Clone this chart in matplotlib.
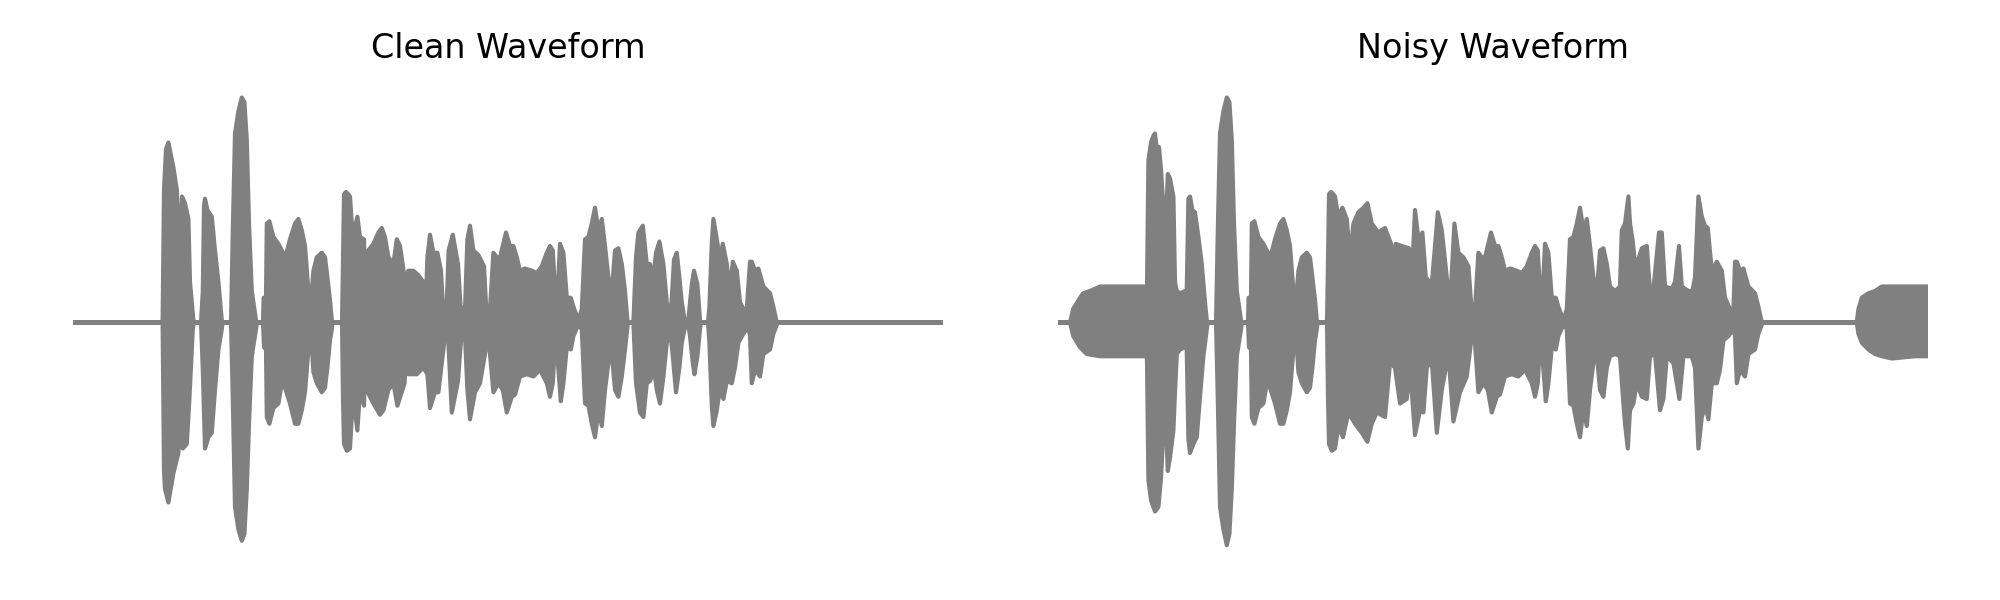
import matplotlib.pyplot as plt
import numpy as np

# Envelopes of the two waveforms.
# time in ms, amplitude normalised to the loudest peak (=1)
clean_top_t = [0, 440, 448, 455, 465, 477, 502, 519, 528, 532, 538, 545, 560, 577, 585, 602, 605,
               640, 649, 655, 660, 672, 694, 710, 727, 744, 748,
               790, 799, 810, 827, 844, 857, 869, 880, 894, 915, 920,
               950, 953, 965, 969, 982, 1002, 1027, 1050, 1057, 1062, 1085, 1110, 1127, 1144, 1160, 1177,
               1190, 1202, 1219, 1244, 1260, 1272, 1285, 1294, 1298,
               1345, 1350, 1355, 1365, 1377, 1385, 1394, 1405, 1422, 1435, 1455, 1460, 1468, 1502, 1527,
               1544, 1560, 1577, 1602, 1619, 1635, 1658, 1669, 1676, 1702, 1727, 1752, 1765, 1772, 1785,
               1802, 1822, 1840, 1850, 1868, 1878, 1899, 1925, 1938, 1960, 1972, 1985, 2002, 2027, 2055,
               2068, 2085,
               2102, 2119, 2135, 2165, 2185, 2202, 2219, 2235, 2260, 2294, 2319, 2344, 2369, 2385, 2399,
               2410, 2422, 2435, 2452, 2469, 2489, 2502, 2527, 2544, 2560, 2577, 2594, 2610, 2627, 2644,
               2660, 2677, 2694, 2710, 2727, 2744, 2760, 2772, 2775,
               2802, 2815, 2827, 2849, 2869, 2885, 2902, 2915, 2932, 2952, 2969, 2985, 2994, 3005, 3019,
               3032, 3044, 3060, 3075, 3082, 3094, 3105, 3122, 3135, 3140, 3175, 3182, 3194, 3202, 3219,
               3235, 3249, 3269, 3285, 3299, 3319, 3335, 3352, 3369, 3385, 3394, 3410, 3427, 3452, 3485,
               3502, 3519, 4350]
clean_top = [0, 0, 0, 0.59, 0.77, 0.80, 0.69, 0.59, 0.41, 0.20, 0.37, 0.56, 0.53, 0.46, 0.18, 0.01, 0,
             0, 0.14, 0.52, 0.55, 0.50, 0.47, 0.32, 0.18, 0.01, 0,
             0, 0.41, 0.84, 0.94, 1.00, 0.98, 0.81, 0.44, 0.14, 0.01, 0,
             0, 0.11, 0.11, 0.44, 0.45, 0.38, 0.35, 0.31, 0.14, 0.29, 0.37, 0.44, 0.46, 0.41, 0.34, 0.14,
             0.10, 0.23, 0.29, 0.31, 0.29, 0.20, 0.10, 0.01, 0,
             0, 0.28, 0.57, 0.58, 0.57, 0.56, 0.44, 0.41, 0.47, 0.38, 0.37, 0.19, 0.31, 0.35, 0.40,
             0.42, 0.38, 0.29, 0.26, 0.37, 0.34, 0.20, 0.06, 0.23, 0.23, 0.21, 0.18, 0.11, 0.29, 0.39,
             0.31, 0.31, 0.23, 0.07, 0.06, 0.32, 0.39, 0.26, 0.07, 0.06, 0.37, 0.43, 0.32, 0.30, 0.25,
             0.03, 0.06,
             0.31, 0.29, 0.29, 0.40, 0.34, 0.34, 0.29, 0.23, 0.24, 0.23, 0.22, 0.25, 0.31, 0.34, 0.32,
             0.14, 0.11, 0.35, 0.31, 0.11, 0.11, 0.07, 0.01, 0.06, 0.37, 0.38, 0.44, 0.51, 0.41, 0.46,
             0.34, 0.20, 0.14, 0.32, 0.33, 0.26, 0.14, 0.01, 0,
             0, 0.29, 0.40, 0.43, 0.26, 0.26, 0.20, 0.31, 0.36, 0.26, 0.09, 0, 0.11, 0.28, 0.31,
             0.20, 0.09, 0, 0, 0.06, 0.17, 0.23, 0.17, 0.01, 0, 0, 0.07, 0.35, 0.46, 0.37,
             0.28, 0.35, 0.26, 0.14, 0.27, 0.23, 0.09, 0.06, 0.06, 0.27, 0.27, 0.23, 0.24, 0.16, 0.13,
             0.07, 0, 0]

clean_bot_t = [0, 440, 448, 455, 460, 477, 502, 527, 532, 535, 549, 569, 582, 599, 605,
               640, 649, 660, 677, 694, 710, 727, 744, 748,
               790, 799, 810, 827, 844, 857, 869, 880, 894, 915, 920,
               950, 955, 965, 969, 982, 1002, 1027, 1044, 1057, 1060, 1085, 1110, 1127, 1144, 1160, 1177,
               1190, 1202, 1219, 1244, 1260, 1272, 1285, 1294, 1298,
               1345, 1350, 1355, 1369, 1385, 1394, 1405, 1422, 1435, 1455, 1460, 1468, 1502, 1535, 1552,
               1577, 1602, 1622, 1658, 1669, 1676, 1719, 1752, 1772, 1785, 1810, 1827, 1844, 1860, 1877,
               1894, 1925, 1940, 1960, 1972, 1985, 2010, 2035, 2060, 2077,
               2102, 2127, 2149, 2169, 2194, 2210, 2235, 2269, 2302, 2335, 2369, 2385, 2399, 2410, 2422,
               2439, 2452, 2469, 2489, 2502, 2527, 2544, 2560, 2577, 2594, 2610, 2627, 2644, 2660, 2677,
               2694, 2710, 2727, 2744, 2760, 2772, 2775,
               2802, 2815, 2835, 2852, 2869, 2885, 2905, 2919, 2935, 2952, 2969, 2985, 2999, 3015, 3032,
               3044, 3060, 3075, 3085, 3099, 3107, 3122, 3135, 3140, 3175, 3182, 3194, 3202, 3219, 3235,
               3252, 3269, 3294, 3310, 3327, 3352, 3377, 3385, 3394, 3410, 3435, 3452, 3485, 3502, 3519,
               3520, 4350]
clean_bot = [0, 0, 0, -0.66, -0.74, -0.80, -0.67, -0.58, -0.48, -0.20, -0.56, -0.54, -0.34, -0.03, 0,
             0, -0.21, -0.56, -0.51, -0.49, -0.30, -0.12, -0.03, 0,
             0, -0.34, -0.82, -0.92, -0.97, -0.94, -0.74, -0.45, -0.15, -0.03, 0,
             0, -0.11, -0.12, -0.42, -0.45, -0.38, -0.36, -0.27, -0.12, -0.29, -0.36, -0.45, -0.45, -0.39,
             -0.31, -0.12, -0.05, -0.22, -0.27, -0.31, -0.29, -0.20, -0.08, -0.03, 0,
             0, -0.34, -0.54, -0.57, -0.56, -0.42, -0.36, -0.48, -0.30, -0.37, -0.18, -0.30, -0.36, -0.41,
             -0.39, -0.30, -0.27, -0.37, -0.27, -0.06, -0.23, -0.23, -0.20, -0.23, -0.38, -0.31, -0.31,
             -0.18, -0.06, -0.09, -0.40, -0.26, -0.08, -0.06, -0.30, -0.43, -0.31, -0.27, -0.14, -0.06,
             -0.31, -0.27, -0.30, -0.40, -0.33, -0.32, -0.24, -0.23, -0.24, -0.21, -0.27, -0.33, -0.27,
             -0.09, -0.15, -0.35, -0.27, -0.11, -0.12, -0.06, -0.01, -0.03, -0.36, -0.37, -0.45, -0.51,
             -0.39, -0.46, -0.30, -0.18, -0.14, -0.30, -0.33, -0.24, -0.12, -0.02, 0,
             0, -0.27, -0.40, -0.42, -0.27, -0.26, -0.21, -0.30, -0.36, -0.24, -0.09, -0.03, -0.15, -0.31,
             -0.20, -0.09, -0.02, 0, -0.06, -0.18, -0.23, -0.15, -0.03, 0, 0, -0.09, -0.37, -0.46, -0.39,
             -0.29, -0.34, -0.26, -0.27, -0.20, -0.09, -0.05, -0.02, -0.06, -0.27, -0.21, -0.24, -0.14,
             -0.12, -0.05, -0.01, 0, 0]

noisy_top_t = [0, 60, 76, 110, 126, 160, 210, 276, 360, 443,
               445, 452, 465, 477, 485, 494, 505, 515, 525, 535, 549, 560, 577, 585, 594, 610, 635, 643,
               652, 660, 672, 685, 702, 719, 735, 744, 748,
               790, 799, 810, 827, 844, 857, 869, 880, 894, 915, 920,
               950, 953, 965, 969, 982, 1002, 1027, 1050, 1057, 1062, 1085, 1110, 1127, 1144, 1160, 1177,
               1190, 1202, 1219, 1244, 1260, 1272, 1285, 1294, 1298,
               1345, 1350, 1355, 1365, 1377, 1385, 1402, 1422, 1444, 1460, 1477, 1502, 1527, 1547, 1569,
               1602, 1635, 1665, 1677, 1688, 1719, 1755, 1769, 1785, 1802, 1822, 1839, 1869, 1885, 1899,
               1919, 1944, 1960, 1982, 2002, 2027, 2052, 2072, 2085,
               2102, 2119, 2135, 2165, 2185, 2202, 2219, 2235, 2260, 2294, 2319, 2344, 2369, 2385, 2399,
               2410, 2422, 2435, 2452, 2469, 2489, 2502, 2527, 2544, 2560, 2577, 2594, 2610, 2627, 2644,
               2660, 2677, 2694, 2710, 2727, 2744,
               2760, 2785, 2810, 2819, 2835, 2852, 2860, 2874, 2885, 2905, 2919, 2944, 2960, 2977, 3005,
               3019, 3035, 3069, 3085, 3105, 3119, 3152, 3172, 3185, 3202, 3219, 3235, 3249, 3269, 3294,
               3319, 3335, 3360, 3377,
               3385, 3394, 3410, 3427, 3452, 3485, 3502, 3519,
               3994, 4002, 4019, 4052, 4085, 4119, 4169, 4285, 4350]
noisy_top = [0, 0, 0.06, 0.11, 0.13, 0.14, 0.16, 0.16, 0.16, 0.16,
             0.15, 0.72, 0.80, 0.83, 0.84, 0.77, 0.78, 0.68, 0.54, 0.32, 0.66, 0.64, 0.56, 0.18, 0.14,
             0.13, 0.14, 0.11,
             0.55, 0.56, 0.50, 0.49, 0.38, 0.26, 0.09, 0.01, 0,
             0, 0.41, 0.84, 0.94, 1.00, 0.98, 0.81, 0.44, 0.14, 0.01, 0,
             0, 0.11, 0.11, 0.44, 0.45, 0.38, 0.35, 0.31, 0.14, 0.29, 0.37, 0.44, 0.46, 0.41, 0.34, 0.14,
             0.10, 0.23, 0.29, 0.31, 0.29, 0.20, 0.10, 0.01, 0,
             0, 0.28, 0.57, 0.58, 0.57, 0.56, 0.47, 0.51, 0.46, 0.29, 0.44, 0.49, 0.51, 0.53, 0.44,
             0.40, 0.42, 0.35, 0.19, 0.35, 0.34, 0.33, 0.19, 0.50, 0.37, 0.40, 0.20, 0.17, 0.34, 0.49,
             0.41, 0.20, 0.07, 0.44, 0.31, 0.29, 0.25, 0.01, 0.06,
             0.31, 0.29, 0.29, 0.40, 0.34, 0.34, 0.29, 0.23, 0.24, 0.23, 0.22, 0.25, 0.31, 0.34, 0.32,
             0.14, 0.11, 0.35, 0.31, 0.11, 0.11, 0.07, 0.01, 0.06, 0.37, 0.38, 0.44, 0.51, 0.41, 0.46,
             0.34, 0.20, 0.14, 0.32, 0.33, 0.26,
             0.16, 0.14, 0.16, 0.41, 0.44, 0.56, 0.44, 0.36, 0.26, 0.29, 0.33, 0.34, 0.14, 0.15, 0.40,
             0.40, 0.16, 0.15, 0.18, 0.34, 0.16, 0.14, 0.14, 0.20, 0.56, 0.47, 0.43, 0.42, 0.23, 0.27,
             0.23, 0.11, 0.06, 0.05,
             0.27, 0.27, 0.23, 0.24, 0.16, 0.13, 0.07, 0,
             0, 0.06, 0.11, 0.13, 0.14, 0.16, 0.16, 0.16, 0.16]

noisy_bot_t = [0, 60, 76, 110, 143, 210, 443,
               445, 452, 465, 485, 502, 515, 525, 535, 549, 560, 577, 585, 594, 610, 635, 643,
               652, 660, 677, 694, 710, 727, 744, 748,
               790, 799, 810, 827, 844, 857, 869, 880, 894, 915, 920,
               950, 955, 965, 969, 982, 1002, 1027, 1044, 1057, 1060, 1085, 1110, 1127, 1144, 1160, 1177,
               1190, 1202, 1219, 1244, 1260, 1272, 1285, 1294, 1298,
               1345, 1350, 1355, 1369, 1385, 1402, 1425, 1452, 1485, 1519, 1547, 1569, 1594, 1635, 1660,
               1685, 1710, 1744, 1760, 1785, 1810, 1827, 1844, 1869, 1894, 1919, 1952, 1977, 2010, 2044,
               2069, 2085,
               2102, 2127, 2149, 2169, 2194, 2210, 2235, 2269, 2302, 2335, 2369, 2385, 2399, 2410, 2422,
               2439, 2452, 2469, 2489, 2502, 2527, 2544, 2560, 2577, 2594, 2610, 2627, 2644, 2660, 2677,
               2694, 2710, 2727, 2744,
               2760, 2785, 2810, 2822, 2835, 2849, 2860, 2877, 2894, 2919, 2944, 2960, 2985, 3010, 3027,
               3044, 3077, 3107, 3127, 3169, 3185, 3202, 3219, 3235, 3252, 3269, 3294, 3310, 3327, 3352,
               3377,
               3385, 3394, 3410, 3435, 3452, 3485, 3502, 3519, 3520,
               3994, 4002, 4019, 4052, 4085, 4119, 4169, 4285, 4350]
noisy_bot = [0, 0, -0.06, -0.11, -0.14, -0.15, -0.15,
             -0.17, -0.70, -0.79, -0.84, -0.82, -0.69, -0.52, -0.33, -0.66, -0.60, -0.48, -0.31, -0.14,
             -0.12, -0.11, -0.09,
             -0.52, -0.58, -0.54, -0.51, -0.33, -0.15, -0.03, 0,
             0, -0.34, -0.82, -0.92, -0.99, -0.94, -0.74, -0.45, -0.15, -0.03, 0,
             0, -0.11, -0.12, -0.42, -0.45, -0.38, -0.36, -0.27, -0.12, -0.29, -0.36, -0.45, -0.45, -0.39,
             -0.31, -0.12, -0.05, -0.22, -0.27, -0.31, -0.29, -0.20, -0.08, -0.03, 0,
             0, -0.34, -0.54, -0.57, -0.56, -0.46, -0.51, -0.40, -0.45, -0.49, -0.53, -0.45, -0.40, -0.42,
             -0.18, -0.20, -0.36, -0.34, -0.20, -0.50, -0.39, -0.40, -0.20, -0.17, -0.49, -0.30, -0.14,
             -0.44, -0.31, -0.24, -0.06, -0.09,
             -0.31, -0.27, -0.30, -0.40, -0.33, -0.32, -0.24, -0.23, -0.24, -0.21, -0.27, -0.33, -0.27,
             -0.09, -0.15, -0.35, -0.27, -0.11, -0.12, -0.06, -0.01, -0.03, -0.36, -0.37, -0.45, -0.51,
             -0.39, -0.46, -0.30, -0.18, -0.14, -0.30, -0.33, -0.20,
             -0.15, -0.14, -0.15, -0.30, -0.45, -0.56, -0.39, -0.36, -0.27, -0.33, -0.34, -0.15, -0.14,
             -0.39, -0.34, -0.15, -0.18, -0.34, -0.15, -0.15, -0.20, -0.56, -0.42, -0.37, -0.43, -0.27,
             -0.27, -0.21, -0.08, -0.06, -0.03,
             -0.06, -0.27, -0.21, -0.24, -0.14, -0.12, -0.05, -0.01, 0,
             0, -0.05, -0.09, -0.12, -0.14, -0.15, -0.16, -0.15, -0.15]

titles = ['Clean Waveform', 'Noisy Waveform']
duration = 4350
wave_color = 'gray'


def draw_wave(ax, top_t, top, bot_t, bot, title):
    # outline = upper envelope forward, lower envelope backward
    xs = np.r_[top_t, bot_t[::-1]]
    ys = np.r_[top, bot[::-1]]
    ax.fill(xs, ys, facecolor=wave_color, edgecolor=wave_color,
            linewidth=1.5, joinstyle='round')
    ax.set_xlim(0, duration)
    ax.set_ylim(-1.1, 1.1)
    ax.set_title(title, fontsize=12)
    ax.axis('off')


fig = plt.figure(figsize=(10, 3), dpi=200)
ax1 = fig.add_axes([0.0365, 0.05, 0.435, 0.825])
ax2 = fig.add_axes([0.529, 0.05, 0.435, 0.825])

draw_wave(ax1, clean_top_t, clean_top, clean_bot_t, clean_bot, titles[0])
draw_wave(ax2, noisy_top_t, noisy_top, noisy_bot_t, noisy_bot, titles[1])

plt.savefig('out.png', dpi=200)
